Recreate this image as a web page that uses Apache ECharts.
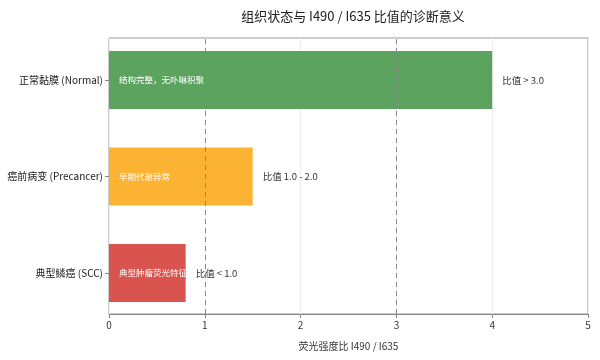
<!DOCTYPE html>
<html><head><meta charset="utf-8">
<script src="https://cdn.jsdelivr.net/npm/echarts@6/dist/echarts.min.js"></script>
<style>html,body{margin:0;padding:0;background:#fff}#c{width:600px;height:360px}</style>
</head><body><div id="c"></div>
<script>
const categories = ['正常黏膜 (Normal)', '癌前病变 (Precancer)', '典型鳞癌 (SCC)'];
const ratios = [4.0, 1.5, 0.8];
const innerLabels = ['结构完整，无卟啉积聚', '早期代谢异常', '典型肿瘤荧光特征'];
const outerLabels = ['比值 > 3.0', '比值 1.0 - 2.0', '比值 < 1.0'];
const colors = ['#5ba35f', '#fcb232', '#d9534f'];
const thresholds = [1, 3];
const xTicks = [0, 1, 2, 3, 4, 5];

const font = '"Noto Sans CJK SC", "Noto Sans", sans-serif';
const chart = echarts.init(document.getElementById('c'), null, {renderer: 'canvas'});
chart.setOption({
  backgroundColor: '#fff',
  animation: false,
  title: {
    text: '组织状态与 I490 / I635 比值的诊断意义',
    left: 348, top: 5, textAlign: 'center',
    textStyle: {fontFamily: font, fontSize: 13, fontWeight: 'normal', color: '#222'}
  },
  grid: [
    {left: 109, right: 12, top: 38, bottom: 46, show: true, borderColor: '#999', borderWidth: 1,
     backgroundColor: 'transparent', containLabel: false, outerBoundsMode: 'none'},
    {left: 109, right: 12, top: 31.75, bottom: 38.7, containLabel: false, outerBoundsMode: 'none'}
  ],
  xAxis: [
    {gridIndex: 0, type: 'value', min: xTicks[0], max: xTicks[xTicks.length - 1], interval: 1,
     name: '荧光强度比 I490 / I635', nameLocation: 'middle', nameGap: 27,
     nameTextStyle: {fontFamily: font, fontSize: 10, color: '#333'},
     axisLine: {show: true, lineStyle: {color: '#888'}},
     axisTick: {show: true, length: 4, lineStyle: {color: '#888'}},
     axisLabel: {fontFamily: font, fontSize: 10, color: '#333', margin: 6},
     splitLine: {show: true, lineStyle: {color: '#eeeeee', width: 1}}},
    {gridIndex: 1, type: 'value', min: 0, max: 5, show: false, splitLine: {show: false}}
  ],
  yAxis: [
    {gridIndex: 0, type: 'value', min: 0, max: 1, show: false, splitLine: {show: false}},
    {gridIndex: 1, type: 'category', inverse: true, data: categories,
     axisLine: {show: false},
     axisTick: {show: true, alignWithLabel: true, length: 4, lineStyle: {color: '#888'}},
     axisLabel: {fontFamily: font, fontSize: 10, color: '#222', margin: 6},
     splitLine: {show: false}}
  ],
  series: [
    {type: 'line', xAxisIndex: 0, yAxisIndex: 0, data: [], silent: true,
     markLine: {symbol: 'none', silent: true, label: {show: false},
       lineStyle: {type: [5, 4], color: '#888', width: 1},
       data: thresholds.map(v => ({xAxis: v}))}},
    {type: 'bar', xAxisIndex: 1, yAxisIndex: 1, barWidth: '60%',
     data: ratios.map((v, i) => ({value: v, itemStyle: {color: colors[i]}})),
     label: {show: true, position: 'insideLeft', distance: 10, color: '#fff',
       fontFamily: font, fontSize: 8.5, overflow: 'none',
       formatter: p => innerLabels[p.dataIndex]}},
    {type: 'bar', xAxisIndex: 1, yAxisIndex: 1, barWidth: '60%', barGap: '-100%',
     data: ratios, itemStyle: {color: 'rgba(0,0,0,0)'}, silent: true,
     label: {show: true, position: 'right', distance: 10, color: '#333',
       fontFamily: font, fontSize: 9.5,
       formatter: p => outerLabels[p.dataIndex]}}
  ]
});
</script></body></html>
